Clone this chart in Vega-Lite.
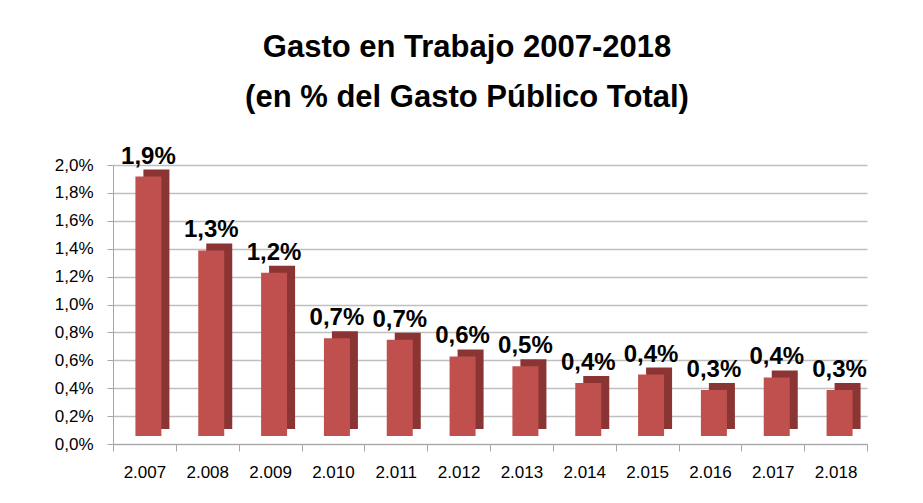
{
  "$schema": "https://vega.github.io/schema/vega-lite/v6.json",
  "width": 754,
  "height": 279,
  "autosize": {"type": "none"},
  "padding": {"left": 113, "top": 165, "right": 56, "bottom": 59},
  "background": "white",
  "config": {
    "locale": {"number": {"decimal": ",", "thousands": ".", "grouping": [3], "currency": ["", " €"]}},
    "view": {"stroke": null},
    "font": "Liberation Sans"
  },
  "title": {
    "text": ["Gasto en Trabajo 2007-2018", "(en % del  Gasto Público Total)"],
    "font": "Liberation Sans",
    "fontSize": 31,
    "fontWeight": "bold",
    "color": "black",
    "lineHeight": 50,
    "anchor": "middle",
    "dx": -23,
    "offset": 31
  },
  "data": {
    "values": [
      {"year": "2.007", "value": 0.0186},
      {"year": "2.008", "value": 0.0133},
      {"year": "2.009", "value": 0.0117},
      {"year": "2.010", "value": 0.0070},
      {"year": "2.011", "value": 0.0069},
      {"year": "2.012", "value": 0.0057},
      {"year": "2.013", "value": 0.0050},
      {"year": "2.014", "value": 0.0038},
      {"year": "2.015", "value": 0.0044},
      {"year": "2.016", "value": 0.0033},
      {"year": "2.017", "value": 0.0042},
      {"year": "2.018", "value": 0.0033}
    ]
  },
  "encoding": {
    "x": {
      "field": "year", "type": "nominal", "sort": null, "title": null,
      "scale": {"paddingInner": 0, "paddingOuter": 0},
      "axis": {
        "labelAngle": 0, "labelFontSize": 17, "labelColor": "black", "labelPadding": 13,
        "domainColor": "#A6A6A6", "tickColor": "#A6A6A6", "tickBand": "extent", "tickSize": 7,
        "grid": false
      }
    },
    "y": {
      "field": "value", "type": "quantitative", "title": null,
      "scale": {"domain": [0, 0.02]},
      "axis": {
        "format": ".1%", "values": [0, 0.002, 0.004, 0.006, 0.008, 0.01, 0.012, 0.014, 0.016, 0.018, 0.02],
        "labelOverlap": false, "labelFlush": false,
        "labelFontSize": 17, "labelColor": "black", "labelPadding": 14,
        "domainColor": "#A6A6A6", "tickColor": "#A6A6A6", "tickSize": 6,
        "gridColor": "#BFBFBF", "gridWidth": 1.5
      }
    }
  },
  "layer": [
    {
      "mark": {"type": "bar", "size": 26, "xOffset": 12, "yOffset": -15, "color": "#8A3533"}
    },
    {
      "mark": {"type": "bar", "size": 26, "xOffset": 4, "yOffset": -8, "color": "#C0504D"}
    },
    {
      "mark": {"type": "text", "font": "Liberation Sans", "fontSize": 24, "fontWeight": "bold", "color": "black", "baseline": "alphabetic", "dx": 4, "dy": -21},
      "encoding": {"text": {"field": "value", "type": "quantitative", "format": ".1%"}}
    }
  ]
}
